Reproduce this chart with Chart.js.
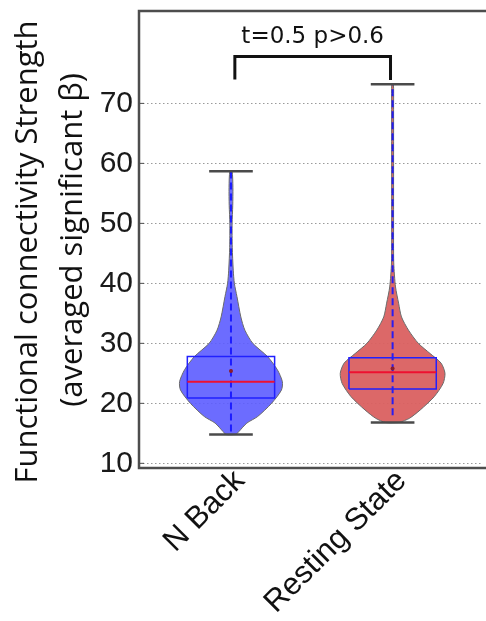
<!DOCTYPE html>
<html>
<head>
<meta charset="utf-8">
<script src="https://cdn.jsdelivr.net/npm/chart.js@4.4.0/dist/chart.umd.min.js"></script>
<style>
  html, body { margin: 0; padding: 0; background: #fff; overflow: hidden; }
  #wrap { width: 486px; height: 621px; position: relative; }
</style>
</head>
<body>
<div id="wrap"><canvas id="violinChart"></canvas></div>
<script>
var categories = ['N Back', 'Resting State'];
var yTicks = [10, 20, 30, 40, 50, 60, 70];

// violin outlines: y value and half width (in category units)
var nbackY = [14.8, 15.3, 16.7, 17.8, 20.0, 22.2, 23.6, 25.6, 27.8, 30.0, 32.2, 34.4, 37.8, 40.0, 42.2, 46.0, 50.0, 53.0, 56.0, 58.7];
var nbackW = [0.031, 0.049, 0.098, 0.165, 0.251, 0.312, 0.318, 0.287, 0.226, 0.135, 0.086, 0.061, 0.037, 0.021, 0.014, 0.008, 0.007, 0.011, 0.012, 0.007];
var restY = [16.8, 17.5, 18.9, 21.1, 23.3, 25.0, 26.7, 28.3, 30.0, 32.2, 34.4, 36.7, 39.4, 43.4, 50.0, 60.0, 70.0, 73.2];
var restW = [0.043, 0.104, 0.171, 0.257, 0.312, 0.324, 0.300, 0.232, 0.159, 0.098, 0.055, 0.037, 0.018, 0.007, 0.006, 0.006, 0.006, 0.005];

// box plot summary
var q1 = [20.9, 22.4];
var q3 = [27.8, 27.6];
var medians = [23.6, 25.2];
var means = [25.4, 25.8];
var whiskLow = [15.3, 18.0];
var whiskHigh = [58.7, 73.2];
var minVals = [14.8, 16.8];
var maxVals = [58.7, 73.2];

// significance bracket
var statLabel = 't=0.5 p>0.6';
var bracketX = [1.024, 1.987];
var bracketLegs = [74.0, 73.9];
var bracketTop = 77.8;

var violinFill = ['rgba(92, 92, 255, 0.9)', 'rgba(218, 96, 96, 0.95)'];
var boxHalf = 0.27;
var capHalf = 0.135;

function violinPoints(pos, ys, ws) {
    var pts = [];
    for (var i = 0; i < ys.length; i++) pts.push({ x: pos + ws[i], y: ys[i] });
    for (var j = ys.length - 1; j >= 0; j--) pts.push({ x: pos - ws[j], y: ys[j] });
    pts.push({ x: pos + ws[0], y: ys[0] });
    return pts;
}

var profiles = [[nbackY, nbackW], [restY, restW]];
var datasets = [];

for (var i = 0; i < categories.length; i++) {
    var pos = i + 1;
    datasets.push({
        label: categories[i] + ' violin',
        data: violinPoints(pos, profiles[i][0], profiles[i][1]),
        showLine: true,
        fill: 'shape',
        backgroundColor: violinFill[i],
        borderColor: '#6a6a6a',
        borderWidth: 1,
        pointRadius: 0,
        tension: 0.25,
        order: 6
    });
    datasets.push({
        label: categories[i] + ' whisker',
        data: [{ x: pos, y: whiskLow[i] }, { x: pos, y: whiskHigh[i] }],
        showLine: true,
        borderColor: 'rgba(20, 20, 255, 0.9)',
        borderWidth: 2,
        borderDash: [7, 4],
        pointRadius: 0,
        order: 5
    });
    [minVals[i], maxVals[i]].forEach(function (v) {
        datasets.push({
            label: 'cap',
            data: [{ x: pos - capHalf, y: v }, { x: pos + capHalf, y: v }],
            showLine: true,
            borderColor: '#4a4a4a',
            borderWidth: 2.5,
            pointRadius: 0,
            order: 4
        });
    });
    datasets.push({
        label: categories[i] + ' box',
        data: [
            { x: pos - boxHalf, y: q1[i] }, { x: pos + boxHalf, y: q1[i] },
            { x: pos + boxHalf, y: q3[i] }, { x: pos - boxHalf, y: q3[i] },
            { x: pos - boxHalf, y: q1[i] }
        ],
        showLine: true,
        borderColor: '#2020ff',
        borderWidth: 1.5,
        pointRadius: 0,
        order: 3
    });
    datasets.push({
        label: categories[i] + ' median',
        data: [{ x: pos - boxHalf, y: medians[i] }, { x: pos + boxHalf, y: medians[i] }],
        showLine: true,
        borderColor: '#ee1030',
        borderWidth: 2,
        pointRadius: 0,
        order: 2
    });
    datasets.push({
        label: categories[i] + ' mean',
        data: [{ x: pos, y: means[i] }],
        pointRadius: 2,
        pointBackgroundColor: '#8a1c2a',
        pointBorderWidth: 0,
        order: 1
    });
}

datasets.push({
    label: 'bracket',
    data: [
        { x: bracketX[0], y: bracketLegs[0] }, { x: bracketX[0], y: bracketTop },
        { x: bracketX[1], y: bracketTop }, { x: bracketX[1], y: bracketLegs[1] }
    ],
    showLine: true,
    borderColor: '#111',
    borderWidth: 3,
    pointRadius: 0,
    order: 0
});

var decorPlugin = {
    id: 'decor',
    afterDraw: function (chart) {
        var ctx = chart.ctx;
        var a = chart.chartArea;
        var xs = chart.scales.x, ys = chart.scales.y;
        ctx.save();

        // frame (left, top, bottom) and inward ticks
        ctx.strokeStyle = '#4d4d4d';
        ctx.lineWidth = 2.5;
        ctx.beginPath();
        ctx.moveTo(chart.width, a.top);
        ctx.lineTo(a.left, a.top);
        ctx.lineTo(a.left, a.bottom);
        ctx.lineTo(chart.width, a.bottom);
        ctx.stroke();
        ctx.lineWidth = 1;
        yTicks.forEach(function (v) {
            var py = ys.getPixelForValue(v);
            ctx.beginPath();
            ctx.moveTo(a.left, py);
            ctx.lineTo(a.left + 5, py);
            ctx.stroke();
        });

        // stats text
        ctx.fillStyle = '#111';
        ctx.font = '23px "DejaVu Sans"';
        ctx.textAlign = 'center';
        ctx.textBaseline = 'alphabetic';
        ctx.fillText(statLabel, xs.getPixelForValue((bracketX[0] + bracketX[1]) / 2), ys.getPixelForValue(80));

        // rotated category labels
        ctx.font = '31px "Liberation Sans"';
        ctx.textAlign = 'right';
        ctx.textBaseline = 'middle';
        categories.forEach(function (c, k) {
            ctx.save();
            ctx.translate(xs.getPixelForValue(k + 1) + 9, a.bottom + 8);
            ctx.rotate(-Math.PI / 4);
            ctx.fillText(c, 0, 0);
            ctx.restore();
        });

        // y axis title, two lines
        ctx.font = '31px "Open Sans"';
        ctx.textAlign = 'center';
        ctx.textBaseline = 'alphabetic';
        [['Functional connectivity Strength', 37, 252], ['(averaged significant \u03b2)', 82, 240]].forEach(function (t) {
            ctx.save();
            ctx.translate(t[1], t[2]);
            ctx.rotate(-Math.PI / 2);
            ctx.fillText(t[0], 0, 0);
            ctx.restore();
        });
        ctx.restore();
    }
};

var ctx = document.getElementById('violinChart').getContext('2d');
var violinChart = new Chart(ctx, {
    type: 'scatter',
    data: { datasets: datasets },
    options: {
        responsive: true,
        maintainAspectRatio: false,
        animation: false,
        layout: { padding: { top: 11, right: 0, bottom: 0, left: 0 } },
        plugins: {
            legend: { display: false },
            tooltip: { enabled: false }
        },
        scales: {
            x: {
                type: 'linear',
                min: 0.431,
                max: 2.553,
                ticks: { display: false },
                grid: { display: false },
                border: { display: false },
                afterFit: function (scale) {
                    scale.height = 153;
                    scale.paddingLeft = 0;
                    scale.paddingRight = 0;
                }
            },
            y: {
                min: 9.22,
                max: 85.4,
                afterBuildTicks: function (scale) {
                    scale.ticks = yTicks.map(function (v) { return { value: v }; });
                },
                ticks: {
                    padding: 6,
                    color: '#1a1a1a',
                    font: { family: '"Liberation Sans"', size: 30 }
                },
                grid: { color: '#9a9a9a', lineWidth: 1, drawTicks: false },
                border: { display: false, dash: [1.5, 2.5] },
                afterFit: function (scale) {
                    scale.width = 139;
                    scale.paddingTop = 0;
                    scale.paddingBottom = 0;
                }
            }
        }
    },
    plugins: [decorPlugin]
});
</script>
</body>
</html>
